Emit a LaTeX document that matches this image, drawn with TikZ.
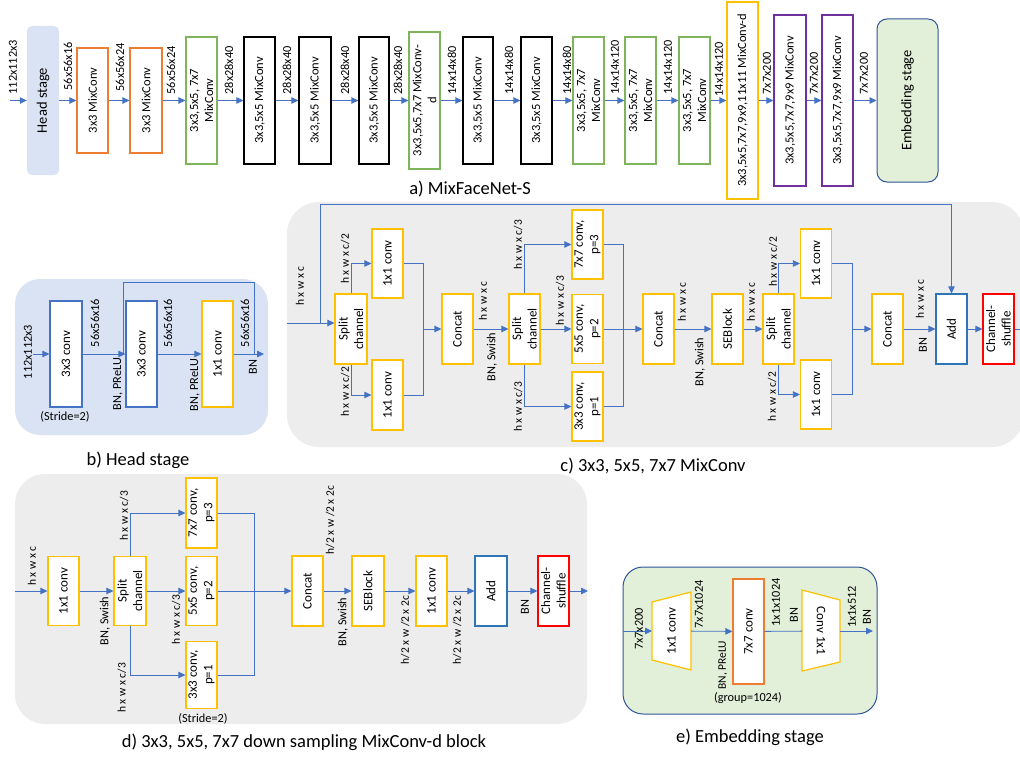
\documentclass[tikz,border=0pt]{standalone}
\usepackage{fontspec}
\setmainfont{Carlito}
\usetikzlibrary{arrows.meta,calc}
\definecolor{lb}{HTML}{4472C4}
\definecolor{headblue}{HTML}{DAE3F3}
\definecolor{embg}{HTML}{E2F0D9}
\definecolor{embb}{HTML}{2F5597}
\definecolor{bggray}{HTML}{EDEDED}
\definecolor{cor}{HTML}{ED7D31}
\definecolor{cgr}{HTML}{7FB55A}
\definecolor{cye}{HTML}{FFC000}
\definecolor{cpu}{HTML}{7030A0}
\definecolor{cab}{HTML}{2E75B6}
\definecolor{cre}{HTML}{FF0000}
\definecolor{cbl}{HTML}{4472C4}
\newcommand\ftbox{\fontsize{12.5}{15}\selectfont}
\newcommand\ftboxb{\fontsize{13}{15.5}\selectfont}
\newcommand\ftlab{\fontsize{12.3}{14}\selectfont}
\newcommand\ftsml{\fontsize{11.5}{13}\selectfont}
\newcommand\ftcap{\fontsize{18.5}{22}\selectfont}
\newcommand\fthead{\fontsize{14.5}{17}\selectfont}
\tikzset{
  arr/.style={line width=0.8pt, draw=lb, -{Triangle[length=7pt,width=6.5pt]}},
  ln/.style={line width=0.8pt, draw=lb},
  bx/.style={draw, fill=white, line width=1.2pt, rotate=90, align=center, inner sep=1pt, font=\ftbox},
  bxb/.style={bx, font=\ftboxb},
  sz/.style 2 args={minimum width=#2, minimum height=#1},
  lab/.style={rotate=90, font=\ftlab, inner sep=0.5pt},
  labs/.style={rotate=90, font=\ftsml, inner sep=0.5pt},
  captxt/.style={font=\ftcap, inner sep=0pt},
}
\begin{document}
\begin{tikzpicture}[x=1pt,y=-1pt]
\useasboundingbox (0,0) rectangle (1020,757);
\clip (0,0) rectangle (1020,757);

% ---------- backgrounds ----------
\fill[headblue, rounded corners=25pt] (15,279) rectangle (268,435);
\fill[bggray, rounded corners=32pt] (287,202) rectangle (1024,447);
\fill[bggray, rounded corners=30pt] (15,474) rectangle (587,724);
\draw[embb, fill=embg, line width=1pt, rounded corners=20pt] (623,567) rectangle (877,714);

% ================= a) MixFaceNet-S =================
\node[rotate=90, fill=headblue, rounded corners=5pt, sz={32}{149}, font=\fthead] (head) at (43,100.5) {Head stage};
\node[bx, draw=cor, sz={31}{105}] (b1) at (92.5,100.5) {3x3 MixConv};
\node[bx, draw=cor, sz={32}{105}] (b2) at (146,100.5) {3x3 MixConv};
\node[bx, draw=cgr, sz={31}{127}] (b3) at (201.5,100.5) {3x3,5x5, 7x7\\MixConv};
\node[bx, draw=black, sz={31}{127}] (b4) at (259.5,100.5) {3x3,5x5 MixConv};
\node[bx, draw=black, sz={32}{127}] (b5) at (315,100.5) {3x3,5x5 MixConv};
\node[bx, draw=black, sz={30}{127}] (b6) at (374,100.5) {3x3,5x5 MixConv};
\node[bx, draw=cgr, sz={31}{137}] (b7) at (424.5,100.5) {3x3,5x5,7x7 MixConv-\\d};
\node[bx, draw=black, sz={30}{127}] (b8) at (478,100.5) {3x3,5x5 MixConv};
\node[bx, draw=black, sz={31}{127}] (b9) at (536.5,100.5) {3x3,5x5 MixConv};
\node[bx, draw=cgr, sz={31}{127}] (b10) at (588.5,100.5) {3x3,5x5, 7x7\\MixConv};
\node[bx, draw=cgr, sz={31}{127}] (b11) at (640.5,100.5) {3x3,5x5, 7x7\\MixConv};
\node[bx, draw=cgr, sz={31}{127}] (b12) at (694.5,100.5) {3x3,5x5, 7x7\\MixConv};
\node[bx, draw=cye, sz={31}{197}] (b13) at (742.5,100.5) {3x3,5x5,7x7,9x9,11x11 MixConv-d};
\node[bx, draw=cpu, sz={32}{171}] (b14) at (790,100.5) {3x3,5x5,7x7,9x9 MixConv};
\node[bx, draw=cpu, sz={31}{171}] (b15) at (837.5,100.5) {3x3,5x5,7x7,9x9 MixConv};
\node[bx, fill=embg, draw=embb, line width=1pt, rounded corners=10pt, sz={61}{163}, font=\fthead] (emb) at (907.5,100.5) {Embedding stage};
\coordinate (ain) at (10,100.5);
\draw[arr] (ain) -- (head);
\draw[arr] (head) -- (b1);
\draw[arr] (b1) -- (b2);
\draw[arr] (b2) -- (b3);
\draw[arr] (b3) -- (b4);
\draw[arr] (b4) -- (b5);
\draw[arr] (b5) -- (b6);
\draw[arr] (b6) -- (b7);
\draw[arr] (b7) -- (b8);
\draw[arr] (b8) -- (b9);
\draw[arr] (b9) -- (b10);
\draw[arr] (b10) -- (b11);
\draw[arr] (b11) -- (b12);
\draw[arr] (b12) -- (b13);
\draw[arr] (b13) -- (b14);
\draw[arr] (b14) -- (b15);
\draw[arr] (b15) -- (emb);
\node[lab, anchor=west] at (13,95) {112x112x3};
\node[lab, anchor=west] at (68,91) {56x56x16};
\node[lab, anchor=west] at (120,92) {56x56x24};
\node[lab, anchor=west] at (171,95) {56x56x24};
\node[lab, anchor=west] at (229,95) {28x28x40};
\node[lab, anchor=west] at (287,95) {28x28x40};
\node[lab, anchor=west] at (345,95) {28x28x40};
\node[lab, anchor=west] at (398,95) {28x28x40};
\node[lab, anchor=west] at (452,95) {14x14x80};
\node[lab, anchor=west] at (509,95) {14x14x80};
\node[lab, anchor=west] at (567,95) {14x14x80};
\node[lab, anchor=west] at (615,95) {14x14x120};
\node[lab, anchor=west] at (668,95) {14x14x120};
\node[lab, anchor=west] at (719,97) {14x14x120};
\node[lab, anchor=west] at (767,95) {7x7x200};
\node[lab, anchor=west] at (814,95) {7x7x200};
\node[lab, anchor=west] at (864,95) {7x7x200};
\node[captxt] (capa) at (470,189) {a) MixFaceNet-S};

% ================= b) Head stage =================
\node[bxb, draw=cbl, sz={32}{106}] (hb1) at (66,354) {3x3 conv};
\node[bxb, draw=cbl, sz={31}{106}] (hb2) at (141.5,354) {3x3 conv};
\node[bxb, draw=cye, sz={31}{106}] (hb3) at (217.5,354) {1x1 conv};
\coordinate (hin) at (33,354);
\coordinate (hsk) at (123,354);
\coordinate (hk1) at (123,282);
\coordinate (hk2) at (254,282);
\coordinate (hend) at (254,354);
\coordinate (hout) at (264,354);
\draw[arr] (hin) -- (hb1);
\draw[arr] (hb1) -- (hb2);
\draw[arr] (hb2) -- (hb3);
\draw[arr] (hb3) -- (hout);
\draw[ln] (hsk) -- (hk1) -- (hk2) -- (hend);
\node[lab] at (28,352) {112x112x3};
\node[lab] at (95,323) {56x56x16};
\node[lab] at (168,323) {56x56x16};
\node[lab] at (245,323) {56x56x16};
\node[lab] at (118,384) {BN, PReLU};
\node[lab] at (195,385) {BN, PReLU};
\node[lab] at (253,367) {BN};
\node[font=\ftlab, inner sep=0pt] (hstr) at (65,417) {(Stride=2)};
\node[captxt] (capb) at (138,460) {b) Head stage};

% ================= c) MixConv =================
\node[bxb, draw=cye, sz={32}{70}] (s1) at (351,329) {Split\\channel};
\node[bxb, draw=cye, sz={31}{69}] (c1a) at (387.5,263.5) {1x1 conv};
\node[bxb, draw=cye, sz={31}{70}] (c1b) at (387.5,395) {1x1 conv};
\node[bxb, draw=cye, sz={31}{70}] (cc1) at (457.5,329) {Concat};
\node[bxb, draw=cye, sz={31}{70}] (s2) at (524.5,329) {Split\\channel};
\node[bxb, draw=cye, sz={31}{69}] (k7) at (587.5,244.5) {7x7 conv,\\p=3};
\node[bxb, draw=cye, sz={31}{69}] (k5) at (587.5,329) {5x5 conv,\\p=2};
\node[bxb, draw=cye, sz={31}{69}] (k3) at (587.5,406.5) {3x3 conv,\\p=1};
\node[bxb, draw=cye, sz={31}{70}] (cc2) at (658.5,329) {Concat};
\node[bxb, draw=cye, sz={31}{70}] (se) at (727.5,329) {SEBlock};
\node[bxb, draw=cye, sz={31}{70}] (s3) at (778.5,329) {Split\\channel};
\node[bxb, draw=cye, sz={31}{69}] (d1a) at (816,263.5) {1x1 conv};
\node[bxb, draw=cye, sz={31}{69}] (d1b) at (816,394.5) {1x1 conv};
\node[bxb, draw=cye, sz={31}{70}] (cc3) at (887.5,329) {Concat};
\node[bxb, draw=cab, sz={31}{70}] (add) at (951.5,329) {Add};
\node[bxb, draw=cre, sz={31}{70}] (cs) at (998.5,329) {Channel-\\shuffle};
\coordinate (cin) at (287,323);
\coordinate (csk) at (320,323);
\coordinate (ct1) at (320,204);
\coordinate (ct2) at (add |- ct1);
\coordinate (m1) at (423,329);
\coordinate (m2) at (623,329);
\coordinate (m3) at (852,329);
\coordinate (cout) at (1021,329);
\draw[arr] (cin) -- (cin -| s1.north);
\draw[ln] (csk) -- (ct1) -- (ct2);
\draw[arr] (ct2) -- (add);
\draw[arr] (s1) |- (c1a);
\draw[arr] (s1) |- (c1b);
\draw[ln] (c1a) -| (m1);
\draw[ln] (c1b) -| (m1);
\draw[arr] (m1) -- (cc1);
\draw[arr] (cc1) -- (s2);
\draw[arr] (s2) |- (k7);
\draw[arr] (s2) -- (k5);
\draw[arr] (s2) |- (k3);
\draw[ln] (k7) -| (m2);
\draw[ln] (k3) -| (m2);
\draw[ln] (k5) -- (m2);
\draw[arr] (m2) -- (cc2);
\draw[arr] (cc2) -- (se);
\draw[arr] (se) -- (s3);
\draw[arr] (s3) |- (d1a);
\draw[arr] (s3) |- (d1b);
\draw[ln] (d1a) -| (m3);
\draw[ln] (d1b) -| (m3);
\draw[arr] (m3) -- (cc3);
\draw[arr] (cc3) -- (add);
\draw[arr] (add) -- (cs);
\draw[ln] (cs) -- (cout);
\node[labs] at (300,286) {h x w x c};
\node[labs] at (345,259) {h x w x c/2};
\node[labs] at (345,392) {h x w x c/2};
\node[labs] at (483,301) {h x w x c};
\node[lab] at (492,357) {BN, Swish};
\node[labs] at (518,245) {h x w x c/3};
\node[labs] at (560,301) {h x w x c/3};
\node[labs] at (518,407) {h x w x c/3};
\node[labs] at (682,302) {h x w x c};
\node[lab] at (700,362) {BN, Swish};
\node[labs] at (751,302) {h x w x c};
\node[labs] at (773,262) {h x w x c/2};
\node[labs] at (772,397) {h x w x c/2};
\node[labs] at (920,299) {h x w x c};
\node[lab] at (923,345) {BN};
\node[captxt] (capc) at (653,466) {c) 3x3, 5x5, 7x7 MixConv};

% ================= d) MixConv-d =================
\node[bxb, draw=cye, sz={31}{69}] (e1x) at (63.5,591) {1x1 conv};
\node[bxb, draw=cye, sz={32}{69}] (ds) at (130,591) {Split\\channel};
\node[bxb, draw=cye, sz={31}{70}] (d7) at (201.5,513) {7x7 conv,\\p=3};
\node[bxb, draw=cye, sz={31}{69}] (d5) at (201.5,591) {5x5 conv,\\p=2};
\node[bxb, draw=cye, sz={31}{67}] (d3) at (201.5,675) {3x3 conv,\\p=1};
\node[bxb, draw=cye, sz={31}{70}] (dcc) at (307.5,591) {Concat};
\node[bxb, draw=cye, sz={32}{70}] (dse) at (368,591) {SEBlock};
\node[bxb, draw=cye, sz={31}{70}] (d1) at (431.5,591) {1x1 conv};
\node[bxb, draw=cab, sz={32}{70}] (dadd) at (491,591) {Add};
\node[bxb, draw=cre, sz={31}{70}] (dcs) at (553.5,591) {Channel-\\shuffle};
\coordinate (din) at (15,591);
\coordinate (dm) at (254,591);
\coordinate (dout) at (588,591);
\draw[arr] (din) -- (e1x);
\draw[arr] (e1x) -- (ds);
\draw[arr] (ds) |- (d7);
\draw[arr] (ds) -- (d5);
\draw[arr] (ds) |- (d3);
\draw[ln] (d7) -| (dm);
\draw[ln] (d3) -| (dm);
\draw[ln] (d5) -- (dm);
\draw[arr] (dm) -- (dcc);
\draw[arr] (dcc) -- (dse);
\draw[arr] (dse) -- (d1);
\draw[arr] (d1) -- (dadd);
\draw[arr] (dadd) -- (dcs);
\draw[arr] (dcs) -- (dout);
\node[labs] at (32,566) {h x w x c};
\node[lab] at (105,621) {BN, Swish};
\node[labs] at (124,516) {h x w x c/3};
\node[labs] at (176,620) {h x w x c/3};
\node[labs] at (122,688) {h x w x c/3};
\node[font=\ftlab, inner sep=0pt] (dstr) at (203,719) {(Stride=2)};
\node[labs] at (330,520) {h/2 x w /2 x 2c};
\node[lab] at (343,622) {BN, Swish};
\node[labs] at (405,630) {h/2 x w /2 x 2c};
\node[labs] at (457,630) {h/2 x w /2 x 2c};
\node[lab] at (525,607) {BN};
\node[captxt] (capd) at (304,742) {d) 3x3, 5x5, 7x7 down sampling MixConv-d block};

% ================= e) Embedding stage =================
\draw[cye, fill=white, line width=1.2pt] (652,602) -- (691,592) -- (691,670) -- (652,660) -- cycle;
\draw[cye, fill=white, line width=1.2pt] (802,590) -- (840,600) -- (840,662) -- (802,671) -- cycle;
\node[rotate=90, sz={39}{78}, inner sep=0pt, outer sep=0pt, font=\ftboxb] (e1) at (671.5,631) {1x1 conv};
\node[bxb, draw=cor, sz={31}{105}] (e7) at (748.5,631.5) {7x7 conv};
\node[rotate=-90, sz={38}{81}, inner sep=0pt, outer sep=0pt, font=\ftboxb] (e2) at (821,631) {Conv 1x1};
\coordinate (ein) at (623,631);
\coordinate (eout) at (873,631);
\draw[arr] (ein) -- (e1);
\draw[arr] (e1) -- (e7);
\draw[ln] (e7) -- (e2);
\draw[arr] (e2) -- (eout);
\node[lab] at (639,629) {7x7x200};
\node[lab] at (699,604.5) {7x7x1024};
\node[labs, anchor=east] at (723,640) {BN, PReLU};
\node[font=\ftlab, inner sep=0pt] (egrp) at (748,698) {(group=1024)};
\node[lab] at (776,602.5) {1x1x1024};
\node[lab] at (794,615) {BN};
\node[lab] at (852,607) {1x1x512};
\node[lab] at (867,617) {BN};
\node[captxt] (cape) at (750,737) {e) Embedding stage};
\end{tikzpicture}
\end{document}
